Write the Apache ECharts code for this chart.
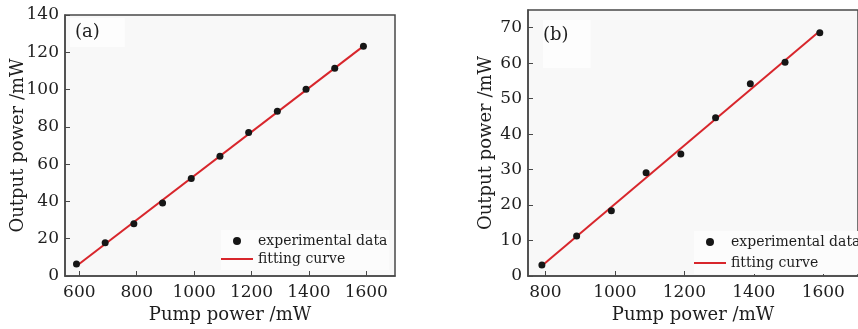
<!DOCTYPE html>
<html>
<head>
<meta charset="utf-8">
<script src="https://cdn.jsdelivr.net/npm/echarts@6/dist/echarts.min.js"></script>
<style>
  html, body { margin: 0; padding: 0; background: #ffffff; }
  #chart { width: 858px; height: 329px; }
</style>
</head>
<body>
<div id="chart"></div>
<script>
// Panel (a): pump power vs output power
const pumpA = [590, 690, 790, 890, 990, 1090, 1190, 1290, 1390, 1490, 1590];
const outputA = [6.5, 17.8, 28.0, 39.1, 52.3, 64.3, 77.0, 88.4, 100.2, 111.4, 123.2];
const fitPumpA = [590, 1590];
const fitOutputA = [5.4, 123.3];

// Panel (b): pump power vs output power
const pumpB = [790, 890, 990, 1090, 1190, 1290, 1390, 1490, 1590];
const outputB = [3.1, 11.3, 18.4, 29.1, 34.4, 44.6, 54.2, 60.3, 68.6];
const fitPumpB = [790, 1590];
const fitOutputB = [2.9, 69.1];

// Tick labels
const xTicksA = [600, 800, 1000, 1200, 1400, 1600];
const yTicksA = [0, 20, 40, 60, 80, 100, 120, 140];
const xTicksB = [800, 1000, 1200, 1400, 1600];
const yTicksB = [0, 10, 20, 30, 40, 50, 60, 70];

const FONT = 'DejaVu Serif';
const INK = '#1e1e1e';
const FRAME = '#484848';
const plain = (v) => String(v);

function pairs(xs, ys) {
  return xs.map((x, i) => [x, ys[i]]);
}

function xAxis(gridIndex, min, max, ticks) {
  return {
    type: 'value', gridIndex, min, max,
    name: 'Pump power /mW', nameLocation: 'middle', nameGap: 30, nameMoveOverlap: false,
    nameTextStyle: { fontFamily: FONT, fontSize: 18, color: INK },
    axisLine: { show: true, lineStyle: { color: FRAME, width: 1.5 } },
    axisTick: { show: true, inside: true, length: 5, customValues: ticks, lineStyle: { color: FRAME } },
    axisLabel: { customValues: ticks, formatter: plain, margin: 8, fontFamily: FONT, fontSize: 17, color: INK },
    splitLine: { show: false }
  };
}

function yAxis(gridIndex, min, max, ticks, gap) {
  return {
    type: 'value', gridIndex, min, max,
    name: 'Output power /mW', nameLocation: 'middle', nameGap: gap, nameMoveOverlap: false,
    nameTextStyle: { fontFamily: FONT, fontSize: 18, color: INK },
    axisLine: { show: true, lineStyle: { color: FRAME, width: 1.5 } },
    axisTick: { show: true, inside: true, length: 5, customValues: ticks, lineStyle: { color: FRAME } },
    axisLabel: { customValues: ticks, formatter: plain, margin: 6, fontFamily: FONT, fontSize: 17, color: INK },
    splitLine: { show: false }
  };
}

// Legend: a plain dot for the measurements, a plain red stroke for the fit
const LINE_ICON = 'path://M0,0 L32,0 L32,2 L0,2 Z';
function legend(left, top, gap) {
  return {
    left, top, orient: 'vertical',
    itemWidth: 32, itemHeight: 8, itemGap: gap,
    backgroundColor: '#fcfcfc', padding: [4, 2, 4, 0],
    textStyle: { fontFamily: FONT, fontSize: 14, color: INK },
    data: [
      { name: 'experimental data', icon: 'circle' },
      { name: 'fitting curve', icon: LINE_ICON }
    ]
  };
}

function panelLabel(text, left, top, padding) {
  return {
    text, left, top, padding, backgroundColor: '#fdfdfd',
    textStyle: { fontFamily: FONT, fontSize: 18, fontWeight: 'normal', color: INK }
  };
}

const dotStyle = { color: '#161616', opacity: 1 };
const fitStyle = { color: '#d8262c', width: 2 };

const chart = echarts.init(document.getElementById('chart'), null, { renderer: 'canvas' });
chart.setOption({
  backgroundColor: '#ffffff',
  animation: false,
  title: [
    panelLabel('(a)', 70, 18, [5, 25, 6, 5]),
    panelLabel('(b)', 543, 20, [6, 22, 24, 0])
  ],
  grid: [
    { left: 65, top: 15, right: 463, bottom: 49, show: true, backgroundColor: '#f8f8f8', borderColor: FRAME, borderWidth: 1.5 },
    { left: 528, top: 10, right: -6, bottom: 49, show: true, backgroundColor: '#f8f8f8', borderColor: FRAME, borderWidth: 1.5 }
  ],
  xAxis: [
    xAxis(0, 550, 1700, xTicksA),
    xAxis(1, 750, 1700, xTicksB)
  ],
  yAxis: [
    yAxis(0, 0, 140, yTicksA, 38),
    yAxis(1, 0, 75, yTicksB, 33)
  ],
  legend: [legend(221, 230, 4), legend(694, 231, 7)],
  series: [
    {
      name: 'fitting curve', type: 'line', xAxisIndex: 0, yAxisIndex: 0,
      data: pairs(fitPumpA, fitOutputA), showSymbol: false, symbol: 'none',
      lineStyle: fitStyle, itemStyle: { color: fitStyle.color }, z: 2
    },
    {
      name: 'experimental data', type: 'scatter', xAxisIndex: 0, yAxisIndex: 0,
      data: pairs(pumpA, outputA), symbol: 'circle', symbolSize: 7,
      itemStyle: dotStyle, z: 3
    },
    {
      name: 'fitting curve', type: 'line', xAxisIndex: 1, yAxisIndex: 1,
      data: pairs(fitPumpB, fitOutputB), showSymbol: false, symbol: 'none',
      lineStyle: fitStyle, itemStyle: { color: fitStyle.color }, z: 2
    },
    {
      name: 'experimental data', type: 'scatter', xAxisIndex: 1, yAxisIndex: 1,
      data: pairs(pumpB, outputB), symbol: 'circle', symbolSize: 7,
      itemStyle: dotStyle, z: 3
    }
  ]
});
</script>
</body>
</html>
